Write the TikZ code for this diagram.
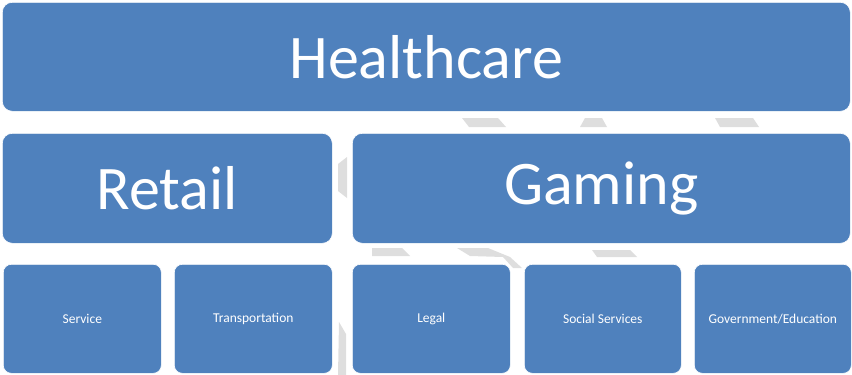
\documentclass[tikz,border=0pt]{standalone}
\usepackage{fontspec}
\setmainfont{Carlito}
\definecolor{boxblue}{HTML}{4F81BD}
\definecolor{bggrey}{HTML}{DEDEDE}
\begin{document}
\begin{tikzpicture}[x=1pt,y=-1pt,
  bigbox/.style={fill=boxblue,draw=white,line width=0.6pt,rounded corners=10pt,text=white,font=\fontsize{62}{62}\selectfont},
  smallbox/.style={fill=boxblue,draw=white,line width=0.6pt,rounded corners=8pt,text=white,font=\fontsize{13.5}{14}\selectfont},
  bgpiece/.style={fill=bggrey,draw=none}]
\useasboundingbox (0,0) rectangle (852,375);
% background band fragments
\fill[bgpiece] (462,118) -- (498,118) -- (506,127) -- (469,127) -- cycle;
\fill[bgpiece] (585,118) -- (602,118) -- (607,127) -- (580,127) -- cycle;
\fill[bgpiece] (715,118) -- (753,118) -- (759,127) -- (720,127) -- cycle;
\fill[bgpiece] (372,248) -- (402,248) -- (410,256) -- (372,256) -- cycle;
\fill[bgpiece] (457,248) -- (488,248) -- (510,257) -- (522,268) -- (513,268) -- (503,257) -- (470,256) -- cycle;
\fill[bgpiece] (592,250) -- (630,250) -- (637,257) -- (597,257) -- cycle;
\fill[bgpiece] (347,157) -- (338,164) -- (338,191) -- (347,198) -- cycle;
\fill[bgpiece] (339,322) -- (346,334) -- (346,375) -- (338,375) -- cycle;
% boxes
\node[bigbox,minimum width=848pt,minimum height=109pt,anchor=north west] (health) at (2,2) {Healthcare};
\node[bigbox,minimum width=330pt,minimum height=110pt,anchor=north west] (retail) at (2,133) {Retail};
\node[bigbox,minimum width=498pt,minimum height=110pt,anchor=north west] (gaming) at (352,133) {Gaming};
\node[smallbox,minimum width=158pt,minimum height=109pt,anchor=north west] (service) at (3,264) {Service};
\node[smallbox,minimum width=158pt,minimum height=109pt,anchor=north west] (transp) at (174,264) {Transportation};
\node[smallbox,minimum width=158pt,minimum height=109pt,anchor=north west] (legal) at (352,264) {Legal};
\node[smallbox,minimum width=157pt,minimum height=109pt,anchor=north west] (social) at (524,264) {Social Services};
\node[smallbox,minimum width=157pt,minimum height=109pt,anchor=north west] (gov) at (694,264) {Government/Education};
\end{tikzpicture}
\end{document}
